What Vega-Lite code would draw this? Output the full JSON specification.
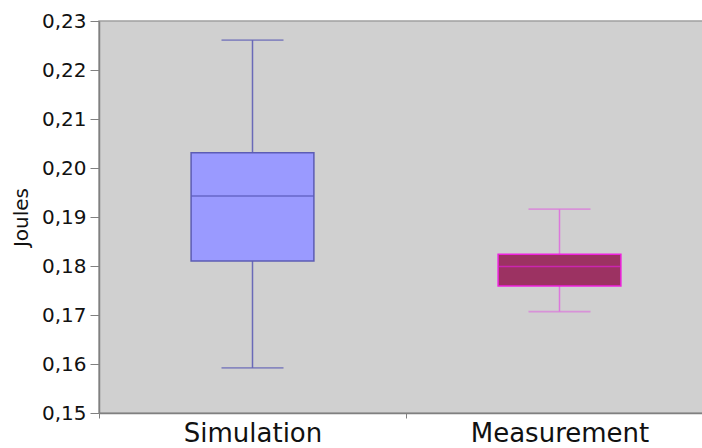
{
  "$schema": "https://vega.github.io/schema/vega-lite/v6.json",
  "autosize": "none",
  "width": 614,
  "height": 392,
  "padding": {"left": 99, "top": 21, "right": 0, "bottom": 35},
  "background": "white",
  "config": {
    "font": "DejaVu Sans",
    "view": {"fill": "#d0d0d0", "stroke": "#a0a0a0", "strokeWidth": 1.5},
    "axis": {"domainColor": "#808080", "tickColor": "#808080", "labelColor": "#111111", "titleColor": "#111111", "grid": false, "labelFont": "DejaVu Sans", "titleFont": "DejaVu Sans", "domainWidth": 1.5}
  },
  "data": {
    "values": [
      {"name": "Simulation", "lower": 0.1592, "q1": 0.1810, "median": 0.1943, "q3": 0.2031, "upper": 0.2261},
      {"name": "Measurement", "lower": 0.1707, "q1": 0.1759, "median": 0.1799, "q3": 0.1824, "upper": 0.1916}
    ]
  },
  "encoding": {
    "x": {
      "field": "name", "type": "nominal", "sort": ["Simulation", "Measurement"],
      "scale": {"paddingInner": 0, "paddingOuter": 0},
      "axis": {"title": null, "labelAngle": 0, "labelFontSize": 26, "labelPadding": 2, "tickSize": 5, "tickBand": "extent", "labelFontWeight": "normal"}
    }
  },
  "layer": [
    {
      "mark": {"type": "rule", "strokeWidth": 1.5},
      "encoding": {
        "y": {
          "field": "lower", "type": "quantitative",
          "scale": {"domain": [0.15, 0.23], "zero": false, "nice": false},
          "axis": {"title": "Joules", "titleFontSize": 20, "titleFontWeight": "normal", "titlePadding": 10, "labelFontSize": 20, "tickSize": 9, "labelPadding": 4, "values": [0.15, 0.16, 0.17, 0.18, 0.19, 0.2, 0.21, 0.22, 0.23], "labelExpr": "replace(format(datum.value, '.2f'), '.', ',')"}
        },
        "y2": {"field": "upper"},
        "color": {"field": "name", "type": "nominal", "legend": null, "scale": {"domain": ["Simulation", "Measurement"], "range": ["#6a6ab8", "#dc78dc"]}}
      }
    },
    {
      "mark": {"type": "tick", "thickness": 1.8, "size": 62},
      "encoding": {
        "y": {"field": "lower", "type": "quantitative"},
        "color": {"field": "name", "type": "nominal", "legend": null, "scale": {"domain": ["Simulation", "Measurement"], "range": ["#6a6ab8", "#dc78dc"]}}
      }
    },
    {
      "mark": {"type": "tick", "thickness": 1.8, "size": 62},
      "encoding": {
        "y": {"field": "upper", "type": "quantitative"},
        "color": {"field": "name", "type": "nominal", "legend": null, "scale": {"domain": ["Simulation", "Measurement"], "range": ["#6a6ab8", "#dc78dc"]}}
      }
    },
    {
      "mark": {"type": "bar", "width": {"band": 0.4}, "strokeWidth": 1.5},
      "encoding": {
        "y": {"field": "q1", "type": "quantitative"},
        "y2": {"field": "q3"},
        "fill": {"field": "name", "type": "nominal", "legend": null, "scale": {"domain": ["Simulation", "Measurement"], "range": ["#9a9aff", "#9c3262"]}},
        "stroke": {"field": "name", "type": "nominal", "legend": null, "scale": {"domain": ["Simulation", "Measurement"], "range": ["#5c5cb4", "#ee22dd"]}}
      }
    },
    {
      "mark": {"type": "tick", "thickness": 1.5, "size": 122},
      "encoding": {
        "y": {"field": "median", "type": "quantitative"},
        "color": {"field": "name", "type": "nominal", "legend": null, "scale": {"domain": ["Simulation", "Measurement"], "range": ["#5050b0", "#e020d0"]}}
      }
    }
  ],
  "resolve": {"scale": {"color": "independent"}}
}
